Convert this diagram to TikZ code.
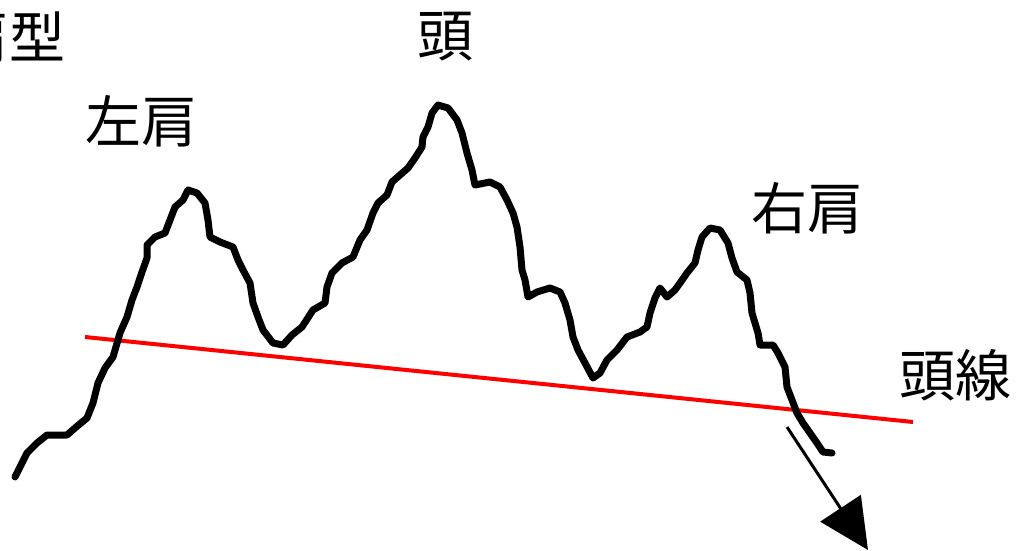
\documentclass[tikz,border=0pt]{standalone}
\usepackage{fontspec}
\setmainfont{Noto Sans CJK JP}
\usetikzlibrary{arrows.meta}
\tikzset{
  lbl/.style={inner sep=0pt, font=\fontsize{56}{56}\selectfont},
  price/.style={line width=7pt, line join=round, line cap=round, black},
  neck/.style={line width=4pt, red},
  drop/.style={line width=3pt, black, -{Triangle[length=50pt,width=48pt]}}
}
\begin{document}
\begin{tikzpicture}[x=1pt,y=-1pt]
\useasboundingbox (0,0) rectangle (1017,551);
\fill[white] (0,0) rectangle (1017,551);
% neckline
\coordinate (n1) at (85,337);
\coordinate (n2) at (913,422);
\draw[neck] (n1) -- (n2);
% price curve
\draw[price] plot coordinates {(15,477) (20,467) (27,453) (37,443) (47,435) (67,435) (75,428) (87,418) (93,403) (98,383) (105,368) (113,357) (120,333) (127,317) (132,300) (137,287) (142,272) (147,258) (147,245) (155,237) (165,233) (170,220) (175,207) (183,200) (188,190) (197,193) (205,203) (208,220) (210,237) (220,242) (233,247) (238,260) (243,270) (250,283) (253,303) (258,317) (263,330) (273,343) (283,345) (292,335) (302,327) (313,310) (325,303) (327,287) (332,273) (342,263) (353,257) (360,240) (367,230) (373,213) (378,203) (387,195) (392,182) (400,175) (408,168) (415,158) (422,147) (423,137) (428,127) (432,113) (438,105) (448,108) (457,120) (462,133) (467,153) (472,170) (475,185) (490,182) (500,187) (507,200) (513,213) (517,227) (520,247) (522,270) (525,280) (528,297) (537,292) (550,288) (560,292) (565,303) (570,320) (573,337) (578,350) (585,363) (593,378) (600,373) (607,360) (617,350) (627,337) (640,332) (647,327) (650,313) (655,298) (660,288) (667,297) (675,290) (680,283) (687,273) (695,263) (698,250) (702,237) (710,228) (720,230) (728,243) (732,258) (737,272) (747,280) (750,293) (752,313) (758,333) (760,345) (773,345) (778,353) (785,367) (787,387) (792,400) (797,413) (803,423) (810,433) (817,443) (823,452) (832,453)};
% breakdown arrow
\coordinate (a1) at (787,427);
\coordinate (a2) at (868,550);
\draw[drop] (a1) -- (a2);
% labels
\node[lbl, anchor=east] (title) at (66,37) {頭肩型};
\node[lbl] (head) at (445,37) {頭};
\node[lbl] (ls) at (141,121) {左肩};
\node[lbl] (rs) at (807,208) {右肩};
\node[lbl] (nl) at (955,375) {頭線};
\end{tikzpicture}
\end{document}
